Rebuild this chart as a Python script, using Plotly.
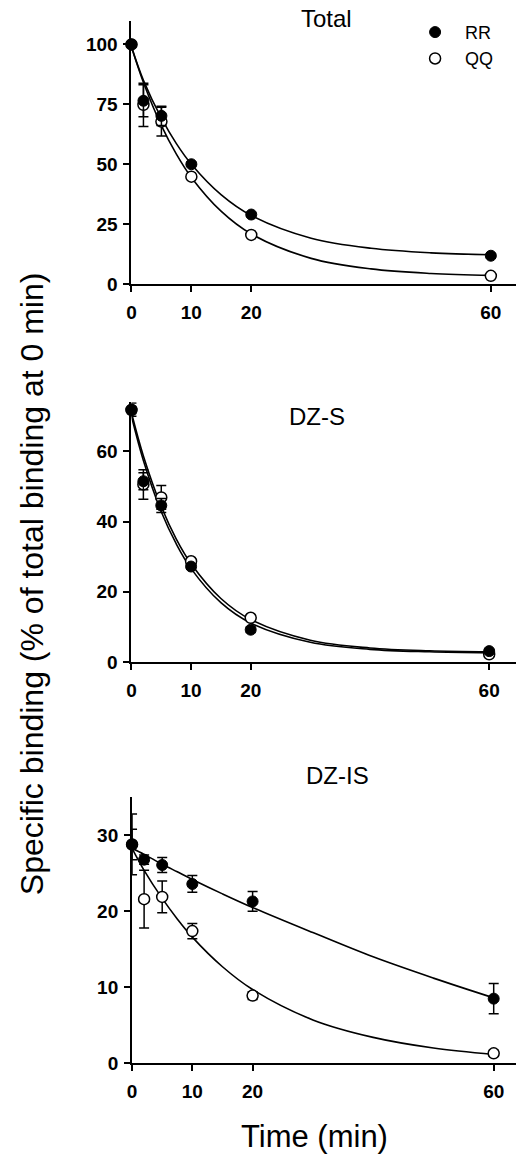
import plotly.graph_objects as go

# ---------------- data ----------------
time_min = [0, 2, 5, 10, 20, 60]

total_rr = [100, 76.5, 70.2, 50.0, 29.0, 11.8]
total_rr_err = [0.5, 6.7, 4.0, 0.8, 0.8, 0.8]
total_qq = [100, 74.8, 67.8, 44.8, 20.5, 3.4]
total_qq_err = [0.5, 9.0, 6.0, 0.8, 0.8, 0.5]

dzs_rr = [71.9, 51.5, 44.6, 27.2, 9.2, 3.1]
dzs_rr_err = [1.9, 2.4, 2.0, 0.8, 0.8, 0.5]
dzs_qq = [71.8, 50.6, 46.9, 28.7, 12.6, 2.2]
dzs_qq_err = [1.0, 4.2, 3.4, 0.8, 0.8, 0.5]

dzis_rr = [28.8, 26.8, 26.1, 23.6, 21.3, 8.5]
dzis_rr_err = [2.0, 0.6, 1.0, 1.1, 1.3, 2.0]
dzis_qq = [28.8, 21.6, 21.9, 17.4, 8.9, 1.3]
dzis_qq_err = [4.0, 3.8, 2.1, 1.0, 0.5, 0.4]

# fitted decay curves
curve_t = [0, 2, 5, 7.5, 10, 15, 20, 30, 40, 50, 60]
total_rr_fit = [99.0, 85.0, 69.2, 58.6, 50.0, 37.2, 28.6, 19.1, 14.9, 13.0, 12.2]
total_qq_fit = [99.0, 84.1, 66.1, 54.2, 44.5, 30.3, 20.9, 10.7, 6.3, 4.4, 3.6]
dzs_rr_fit = [70.0, 57.4, 42.8, 33.7, 26.6, 16.9, 11.1, 5.6, 3.6, 2.9, 2.6]
dzs_qq_fit = [71.0, 58.7, 44.3, 35.1, 28.0, 18.1, 12.1, 6.2, 4.0, 3.2, 2.9]
dzis_rr_fit = [28.3, 27.5, 26.2, 25.2, 24.2, 22.3, 20.5, 17.2, 14.0, 11.2, 8.6]
dzis_qq_fit = [28.3, 25.4, 21.7, 19.0, 16.6, 12.7, 9.7, 5.7, 3.4, 2.0, 1.15]

panel_titles = ["Total", "DZ-S", "DZ-IS"]
y_ticks = [[0, 25, 50, 75, 100], [0, 20, 40, 60], [0, 10, 20, 30]]
y_ranges = [[0, 110], [0, 74], [0, 35]]
x_ticks = [0, 10, 20, 60]
x_ranges = [[0, 64.2], [0, 64.5], [0, 63.7]]
series_names = ["RR", "QQ"]

# ---------------- layout geometry (pixels) ----------------
W, H = 516, 1167
FONT = "Liberation Sans, Arial, Helvetica, sans-serif"
# (x_left, y_bottom, y_top) of each plot area in page pixels
boxes = [(127.7, 286.7, 20.7), (127.7, 668.3, 406.1), (128.3, 1073.3, 805.0)]


def fx(p):
    return p / W


def fy(p):
    return 1 - p / H


fig = go.Figure()

panels = [
    (total_rr, total_rr_err, total_qq, total_qq_err, total_rr_fit, total_qq_fit),
    (dzs_rr, dzs_rr_err, dzs_qq, dzs_qq_err, dzs_rr_fit, dzs_qq_fit),
    (dzis_rr, dzis_rr_err, dzis_qq, dzis_qq_err, dzis_rr_fit, dzis_qq_fit),
]

for i, (rr, rre, qq, qqe, rrf, qqf) in enumerate(panels):
    xa = "x" if i == 0 else f"x{i+1}"
    ya = "y" if i == 0 else f"y{i+1}"
    line = dict(color="black", width=1.6)
    fig.add_trace(go.Scatter(x=curve_t, y=rrf, mode="lines", line=dict(line, shape="spline", smoothing=1.0),
                             xaxis=xa, yaxis=ya, showlegend=False, hoverinfo="skip"))
    fig.add_trace(go.Scatter(x=curve_t, y=qqf, mode="lines", line=dict(line, shape="spline", smoothing=1.0),
                             xaxis=xa, yaxis=ya, showlegend=False, hoverinfo="skip"))
    # QQ first so that RR sits on top
    fig.add_trace(go.Scatter(
        x=time_min, y=qq, mode="markers", name=series_names[1],
        marker=dict(symbol="circle", size=11, color="white", line=dict(color="black", width=1.5)),
        error_y=dict(type="data", array=qqe, visible=True, color="black", thickness=1.5, width=5),
        xaxis=xa, yaxis=ya, cliponaxis=False, showlegend=(i == 0), legendrank=2, legendgroup="qq"))
    fig.add_trace(go.Scatter(
        x=time_min, y=rr, mode="markers", name=series_names[0],
        marker=dict(symbol="circle", size=11, color="black", line=dict(color="black", width=1)),
        error_y=dict(type="data", array=rre, visible=True, color="black", thickness=1.5, width=5),
        xaxis=xa, yaxis=ya, cliponaxis=False, showlegend=(i == 0), legendrank=1, legendgroup="rr"))

axis_common = dict(showline=True, linecolor="black", linewidth=2, ticks="outside", ticklen=6,
                   tickwidth=1.8, tickcolor="black", showgrid=False, zeroline=False,
                   tickfont=dict(family=FONT, size=19, color="black", weight="bold"))

layout = dict(
    width=W, height=H, margin=dict(l=0, r=0, t=0, b=0),
    paper_bgcolor="white", plot_bgcolor="white",
    font=dict(family=FONT, color="black"),
    showlegend=True,
    legend=dict(x=fx(404), y=fy(14), xanchor="left", yanchor="top", bgcolor="rgba(0,0,0,0)",
                font=dict(family=FONT, size=18, color="black"), itemwidth=50, tracegroupgap=14,
                traceorder="normal"),
)

for i, (xl, yb, yt) in enumerate(boxes):
    sx = "" if i == 0 else str(i + 1)
    layout[f"xaxis{sx}"] = dict(axis_common, domain=[fx(xl), 1.0], range=x_ranges[i],
                                tickvals=x_ticks, anchor=f"y{sx}", ticklabelstandoff=4)
    layout[f"yaxis{sx}"] = dict(axis_common, domain=[fy(yb), fy(yt)], range=y_ranges[i],
                                tickvals=y_ticks[i], anchor=f"x{sx}", ticklabelstandoff=2)

title_pos = [(325, 19), (315, 420), (336, 783)]
annotations = []
for t, (ax, ay) in zip(panel_titles, title_pos):
    annotations.append(dict(text=t, x=fx(ax), y=fy(ay), xref="paper", yref="paper", showarrow=False,
                            xanchor="center", yanchor="middle",
                            font=dict(family=FONT, size=24, color="black")))
annotations.append(dict(text="Time (min)", x=fx(313), y=fy(1147), xref="paper", yref="paper",
                        showarrow=False, xanchor="center", yanchor="middle",
                        font=dict(family=FONT, size=31, color="black")))
annotations.append(dict(text="Specific binding (% of total binding at 0 min)", x=fx(28), y=fy(589),
                        xref="paper", yref="paper", showarrow=False, textangle=-90,
                        xanchor="center", yanchor="middle",
                        font=dict(family=FONT, size=32, color="black")))
layout["annotations"] = annotations

fig.update_layout(**layout)
# remove the browser's default page margin so the figure sits at the page origin
fig.write_html("out.html", config={"displayModeBar": False},
               post_script="document.body.style.margin='0px';")
